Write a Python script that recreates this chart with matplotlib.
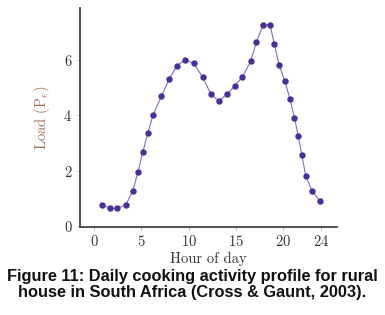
import matplotlib
matplotlib.use("Agg")
import matplotlib.pyplot as plt

hours = [0.81, 1.69, 2.47, 3.35, 4.09, 4.65, 5.15, 5.68, 6.24, 7.12, 7.94, 8.78,
         9.66, 10.55, 11.5, 12.35, 13.2, 14.07, 14.92, 15.7, 16.58, 17.18, 17.88,
         18.62, 19.08, 19.58, 20.18, 20.74, 21.2, 21.59, 21.98, 22.4, 23.07, 23.92]
load = [0.76, 0.65, 0.64, 0.76, 1.26, 1.95, 2.66, 3.35, 4.01, 4.68, 5.31, 5.79,
        6.0, 5.87, 5.37, 4.77, 4.51, 4.77, 5.07, 5.39, 5.95, 6.64, 7.26,
        7.26, 6.56, 5.82, 5.23, 4.57, 3.92, 3.27, 2.56, 1.81, 1.26, 0.91]
xticks = [0, 5, 10, 15, 20, 24]
yticks = [0, 2, 4, 6]

plt.rcParams['font.family'] = 'serif'
plt.rcParams['font.serif'] = ['cmr10', 'DejaVu Serif']
plt.rcParams['mathtext.fontset'] = 'cm'
plt.rcParams['axes.formatter.use_mathtext'] = True

fig = plt.figure(figsize=(3.85, 3.15), dpi=100)
ax = fig.add_axes([80/385, 1-227/315, 257/385, 219/315])

ax.plot(hours, load, color='#7d6fc4', lw=0.8, marker='o', ms=3.6,
        mfc='#4a2f96', mec='#4a2f96')

ax.set_xlim(-1.48, 25.7)
ax.set_ylim(-0.03, 7.87)
ax.set_xticks(xticks)
ax.set_yticks(yticks)
for s in ['top', 'right']:
    ax.spines[s].set_visible(False)
for s in ['left', 'bottom']:
    ax.spines[s].set_color('#444444')
    ax.spines[s].set_linewidth(1.3)
ax.tick_params(axis='y', length=2.5, width=0.6, color='#8fc0e0', labelsize=10.5,
               labelcolor='#333333', pad=3)
ax.tick_params(axis='x', length=2, width=0.6, color='#aaaaaa', labelsize=10.5,
               labelcolor='#333333', pad=3)

ax.set_xlabel('Hour of day', fontsize=10.5, color='#333333', labelpad=2)
ax.set_ylabel(r'Load (P$_e$)', fontsize=10.5, color='#a5705a', labelpad=8)

fig.text(0.5, 1-277/315, 'Figure 11: Daily cooking activity profile for rural',
         ha='center', va='center', fontsize=11.8, fontweight='bold',
         family='Liberation Sans', color='#111111')
fig.text(0.5, 1-292/315, 'house in South Africa (Cross & Gaunt, 2003).',
         ha='center', va='center', fontsize=11.8, fontweight='bold',
         family='Liberation Sans', color='#111111')

fig.savefig('out.png', dpi=100)
